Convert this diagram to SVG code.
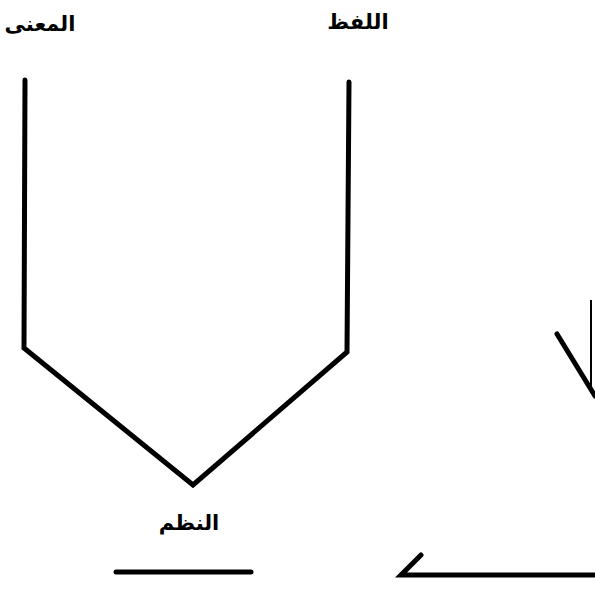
<svg xmlns="http://www.w3.org/2000/svg" width="595" height="609" viewBox="0 0 595 609">
<style>
.ln{fill:none;stroke:#000;stroke-width:5;stroke-linejoin:miter;stroke-linecap:round}
.thin{fill:none;stroke:#000;stroke-width:2}
.lbl{font-family:"DejaVu Sans","Noto Sans",sans-serif;font-weight:bold;font-size:21px;fill:#000;text-anchor:middle}
</style>
<rect width="595" height="609" fill="#fff"/>
<g id="node-maana"><text class="lbl" x="40" y="31" direction="rtl" font-size="19">المعنى</text></g>
<g id="node-lafz"><text class="lbl" x="358" y="29" direction="rtl">اللفظ</text></g>
<g id="node-nazm"><text class="lbl" x="189" y="530" direction="rtl">النظم</text></g>
<g id="connectors">
<polyline class="ln" points="25,80 24,348 193,485 347,352 349,82"/>
<line class="ln" x1="116" y1="572" x2="251" y2="572"/>
<polyline class="ln" points="421,555 401,575 595,575"/>
<line class="ln" x1="557" y1="334" x2="595" y2="396"/>
<line class="thin" x1="591" y1="300" x2="591" y2="393"/>
</g>
</svg>
